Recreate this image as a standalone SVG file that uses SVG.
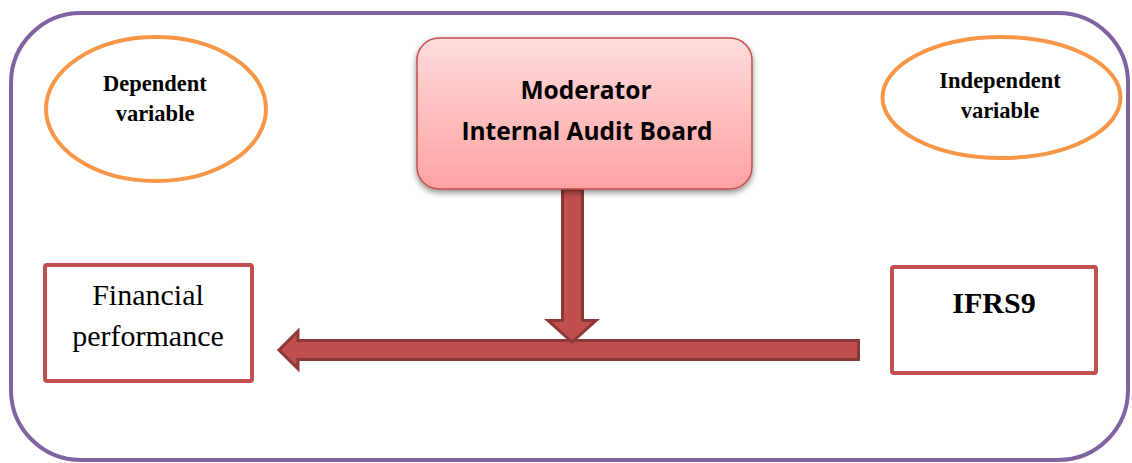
<svg xmlns="http://www.w3.org/2000/svg" width="1132" height="463" viewBox="0 0 1132 463">
  <defs>
    <linearGradient id="modFill" x1="0" y1="0" x2="0" y2="1">
      <stop offset="0" stop-color="#ffdcdc"/>
      <stop offset="1" stop-color="#ffa2a2"/>
    </linearGradient>
    <filter id="shadow" x="-10%" y="-10%" width="120%" height="130%">
      <feGaussianBlur in="SourceAlpha" stdDeviation="3"/>
      <feOffset dx="0" dy="3" result="b"/>
      <feComponentTransfer><feFuncA type="linear" slope="0.45"/></feComponentTransfer>
      <feMerge><feMergeNode/><feMergeNode in="SourceGraphic"/></feMerge>
    </filter>
    <style>
      .frame { fill: #ffffff; stroke: #8064a2; stroke-width: 4; }
      .oval { fill: #ffffff; stroke: #f79646; stroke-width: 4; }
      .box { fill: #ffffff; stroke: #c0504d; stroke-width: 4; }
      .mod { fill: url(#modFill); stroke: #c0504d; stroke-width: 1.5; }
      .arrow { fill: #c0504d; stroke: #8c3836; stroke-width: 3; stroke-linejoin: miter; }
      .serifb { font-family: "Liberation Serif", "Times New Roman", serif; font-weight: bold; fill: #000; text-anchor: middle; }
      .serif { font-family: "Liberation Serif", "Times New Roman", serif; fill: #000; text-anchor: middle; }
      .sansb { font-family: "Open Sans", "Noto Sans", "Liberation Sans", sans-serif; font-weight: bold; fill: #000; text-anchor: middle; }
    </style>
  </defs>

  <rect id="frame" class="frame" x="11" y="13" width="1117" height="447" rx="70" ry="70"/>

  <g id="connectors">
    <path id="arrow-horizontal" class="arrow" d="M279,350 L298,331 L298,340.5 L858.5,340.5 L858.5,359.5 L298,359.5 L298,369 Z"/>
    <path id="arrow-vertical" class="arrow" d="M562.5,189 L582.5,189 L582.5,320.5 L596,320.5 L572,342 L548,320.5 L562.5,320.5 Z"/>
  </g>

  <g id="dependent-variable">
    <ellipse class="oval" cx="156" cy="109" rx="110" ry="72"/>
    <text class="serifb" font-size="22.5" x="155" y="91">Dependent</text>
    <text class="serifb" font-size="22.5" x="155" y="121">variable</text>
  </g>

  <g id="independent-variable">
    <ellipse class="oval" cx="1001.5" cy="97.5" rx="119" ry="60.5"/>
    <text class="serifb" font-size="22.5" x="1000" y="88">Independent</text>
    <text class="serifb" font-size="22.5" x="1000" y="118">variable</text>
  </g>

  <g id="moderator">
    <rect class="mod" x="417" y="38" width="335" height="151" rx="22" ry="22" filter="url(#shadow)"/>
    <text class="sansb" font-size="24.5" x="586" y="99">Moderator</text>
    <text class="sansb" font-size="24.5" x="587" y="140">Internal Audit Board</text>
  </g>

  <g id="financial-performance">
    <rect class="box" x="45" y="265" width="207" height="116" rx="2" ry="2"/>
    <text class="serif" font-size="30" x="148" y="305">Financial</text>
    <text class="serif" font-size="30" x="148" y="346">performance</text>
  </g>

  <g id="ifrs9">
    <rect class="box" x="892" y="267" width="204" height="106" rx="2" ry="2"/>
    <text class="serifb" font-size="30" x="994" y="313">IFRS9</text>
  </g>
</svg>
